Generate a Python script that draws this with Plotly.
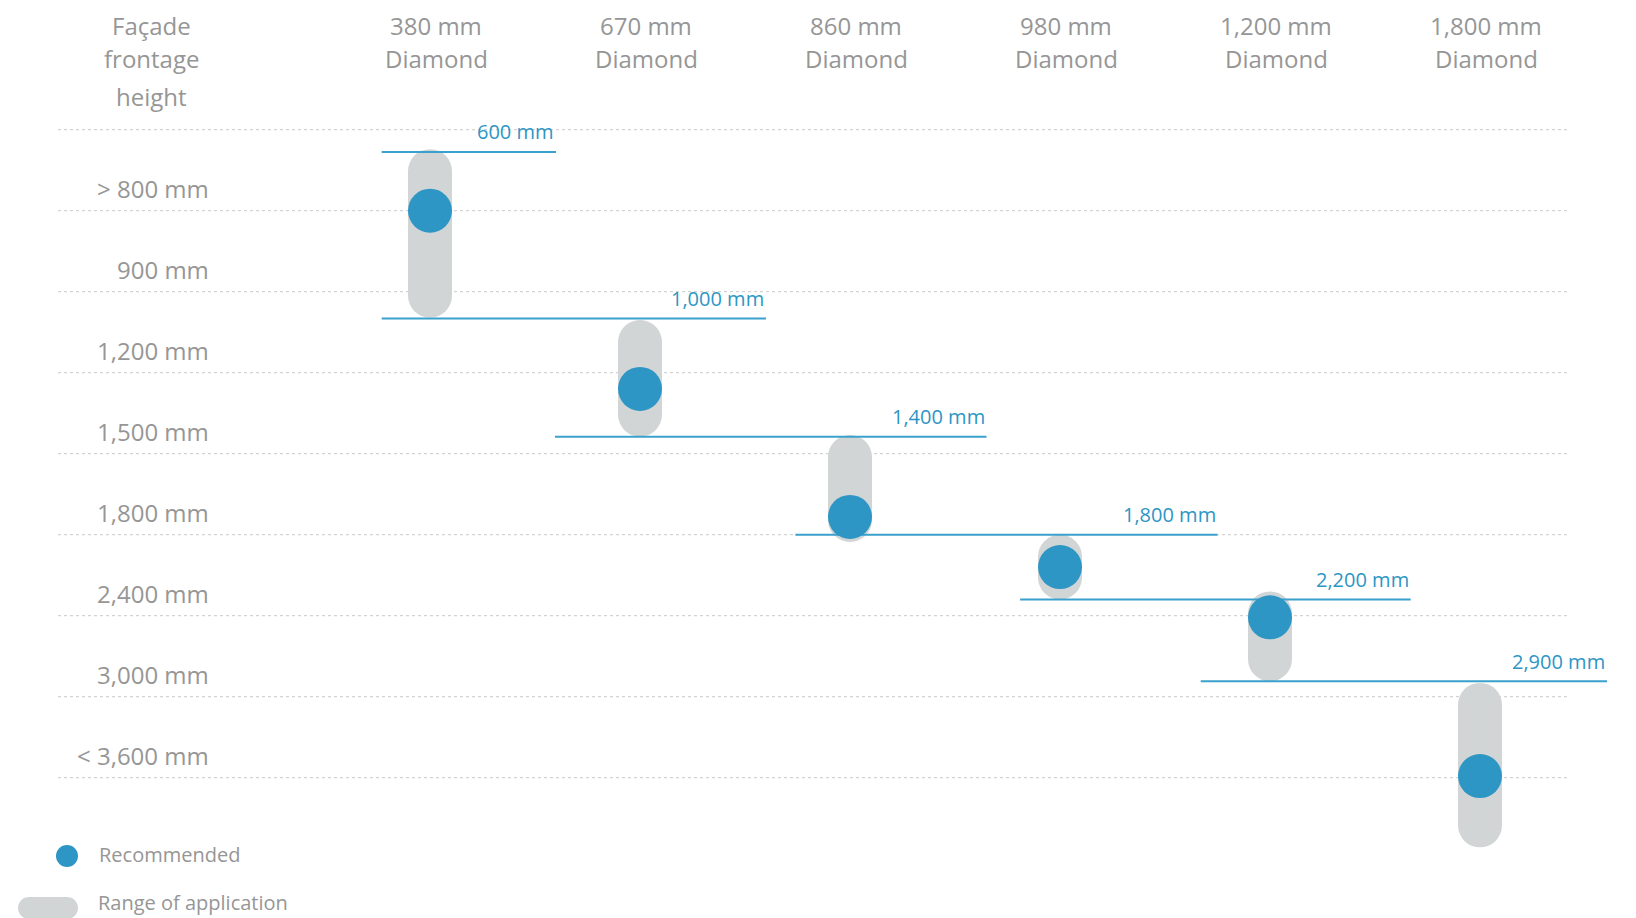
import plotly.graph_objects as go

# ---------------- data ----------------
row_labels = ["> 800 mm", "900 mm", "1,200 mm", "1,500 mm", "1,800 mm",
              "2,400 mm", "3,000 mm", "< 3,600 mm"]
product_sizes = ["380 mm", "670 mm", "860 mm", "980 mm", "1,200 mm", "1,800 mm"]
product_type = "Diamond"
row_header = ["Façade", "frontage", "height"]

# positions on the row scale (0 = top grid line, 1 row per band)
range_top = [0.24, 2.35, 3.77, 5.00, 5.70, 6.83]
range_bottom = [2.32, 3.79, 5.09, 5.80, 6.81, 8.86]
recommended = [1.00, 3.20, 4.78, 5.40, 6.02, 7.98]

threshold_labels = ["600 mm", "1,000 mm", "1,400 mm", "1,800 mm", "2,200 mm", "2,900 mm"]
threshold_pos = [0.275, 2.33, 3.79, 5.00, 5.80, 6.81]
threshold_start = [-0.23, -0.23, 0.595, 1.74, 2.81, 3.67]
threshold_end = [0.60, 1.60, 2.65, 3.75, 4.67, 5.605]

legend_labels = ["Recommended", "Range of application"]

# ---------------- layout helpers ----------------
PAGE_W, PAGE_H = 1636, 918
OFF = 8                         # default page margin of the browser
W, H = PAGE_W - OFF, PAGE_H - OFF
X0, DX = 430.0, 210.0           # screen pixel of column 0, pixel per column
Y0, DY = 129.7, 81.0            # screen pixel of grid line 0, pixel per row


def xd(px):
    return (px - X0) / DX


def yd(py):
    return (py - Y0) / DY


BLUE = "rgb(45,150,196)"
LINE_BLUE = "rgb(58,160,204)"
BAR_GRAY = "rgb(209,213,214)"
TEXT_GRAY = "rgb(150,150,150)"
GRID = "rgb(200,200,200)"
FONT = "Open Sans"
BAR_PX = 44
r_units = (BAR_PX / 2) / DY

fig = go.Figure()

# grid lines
gx, gy = [], []
for i in range(len(row_labels) + 1):
    gx += [xd(58), xd(1568), None]
    gy += [i, i, None]
fig.add_trace(go.Scatter(x=gx, y=gy, mode="lines",
                         line=dict(color=GRID, width=1, dash="dot"),
                         hoverinfo="skip", showlegend=False))

# range bars (pill shapes)
for i, (t, b) in enumerate(zip(range_top, range_bottom)):
    fig.add_trace(go.Scatter(x=[i, i], y=[t + r_units, b - r_units],
                             mode="lines+markers",
                             line=dict(color=BAR_GRAY, width=BAR_PX),
                             marker=dict(color=BAR_GRAY, size=BAR_PX, line=dict(width=0)),
                             hoverinfo="skip", showlegend=False))

# threshold lines
for lbl, pos, s, e in zip(threshold_labels, threshold_pos, threshold_start, threshold_end):
    fig.add_trace(go.Scatter(x=[s, e], y=[pos, pos], mode="lines",
                             line=dict(color=LINE_BLUE, width=2),
                             hoverinfo="skip", showlegend=False))
    fig.add_annotation(x=e, y=pos, text=lbl, showarrow=False,
                       xanchor="right", yanchor="middle", yshift=20,
                       font=dict(family=FONT, size=20, color=BLUE))

# recommended dots
fig.add_trace(go.Scatter(x=list(range(len(recommended))), y=recommended,
                         mode="markers",
                         marker=dict(color=BLUE, size=BAR_PX, line=dict(width=0)),
                         hoverinfo="skip", showlegend=False))

# column headers (first line anchored to the top edge so it stays inside)
for i, s in enumerate(product_sizes):
    fig.add_annotation(x=i, y=yd(OFF), text=s, showarrow=False,
                       xanchor="center", yanchor="top", xshift=6, borderpad=0,
                       font=dict(family=FONT, size=24, color=TEXT_GRAY))
    fig.add_annotation(x=i, y=yd(58), text=product_type, showarrow=False,
                       xanchor="center", yanchor="middle", xshift=6,
                       font=dict(family=FONT, size=24, color=TEXT_GRAY))

# row header
fig.add_annotation(x=xd(151), y=yd(OFF), text=row_header[0], showarrow=False,
                   xanchor="center", yanchor="top", borderpad=0,
                   font=dict(family=FONT, size=24, color=TEXT_GRAY))
for txt, py in zip(row_header[1:], (58, 96)):
    fig.add_annotation(x=xd(151), y=yd(py), text=txt, showarrow=False,
                       xanchor="center", yanchor="middle",
                       font=dict(family=FONT, size=24, color=TEXT_GRAY))

# row labels
for i, lbl in enumerate(row_labels):
    fig.add_annotation(x=xd(211), y=i + 0.73, text=lbl, showarrow=False,
                       xanchor="right", yanchor="middle",
                       font=dict(family=FONT, size=24, color=TEXT_GRAY))

# legend
fig.add_trace(go.Scatter(x=[xd(67)], y=[yd(856)], mode="markers",
                         marker=dict(color=BLUE, size=22, line=dict(width=0)),
                         hoverinfo="skip", showlegend=False))
fig.add_trace(go.Scatter(x=[xd(29), xd(67)], y=[yd(908), yd(908)],
                         mode="lines+markers",
                         line=dict(color=BAR_GRAY, width=22),
                         marker=dict(color=BAR_GRAY, size=22, line=dict(width=0)),
                         hoverinfo="skip", showlegend=False))
fig.add_annotation(x=xd(97), y=yd(854), text=legend_labels[0], showarrow=False,
                   xanchor="left", yanchor="middle",
                   font=dict(family=FONT, size=20, color=TEXT_GRAY))
fig.add_annotation(x=xd(97), y=yd(OFF + H - 1), text=legend_labels[1], showarrow=False,
                   xanchor="left", yanchor="bottom", borderpad=0,
                   font=dict(family=FONT, size=20, color=TEXT_GRAY))

fig.update_layout(
    width=W, height=H,
    margin=dict(l=0, r=0, t=0, b=0),
    paper_bgcolor="white", plot_bgcolor="white",
    xaxis=dict(range=[xd(OFF), xd(OFF + W)], visible=False, fixedrange=True),
    yaxis=dict(range=[yd(OFF + H), yd(OFF)], visible=False, fixedrange=True),
    font=dict(family=FONT),
)

fig.write_html("out.html", config={"displayModeBar": False})
